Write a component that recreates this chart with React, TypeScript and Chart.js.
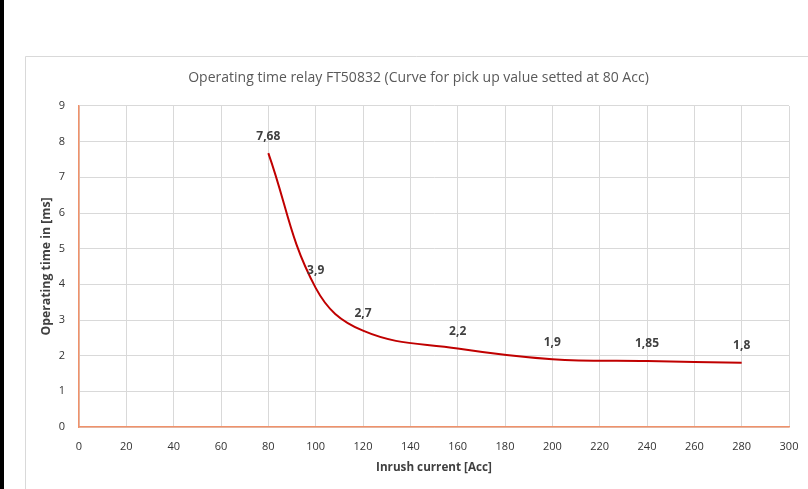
import React, { useEffect, useRef } from "react";
import { Chart, registerables } from "chart.js";

Chart.register(...registerables);

const currents = [80, 100, 120, 160, 200, 240, 280];
const times = [7.68, 3.9, 2.7, 2.2, 1.9, 1.85, 1.8];
const titleText = "Operating time relay FT50832 (Curve for pick up value setted at 80 Acc)";
const xTitle = "Inrush current [Acc]";
const yTitle = "Operating time in [ms]";

const FONT = "'Open Sans', 'Noto Sans', sans-serif";

const framePlugin = {
  id: "frame",
  beforeDraw(chart: any) {
    const { ctx, width, height } = chart;
    ctx.save();
    ctx.fillStyle = "#ffffff";
    ctx.fillRect(0, 0, width, height);
    ctx.fillStyle = "#000000";
    ctx.fillRect(0, 0, 4, height);
    ctx.strokeStyle = "#d9d9d9";
    ctx.lineWidth = 1;
    ctx.beginPath();
    ctx.moveTo(25.5, height);
    ctx.lineTo(25.5, 56.5);
    ctx.lineTo(width, 56.5);
    ctx.stroke();
    ctx.restore();
  },
};

const labelPlugin = {
  id: "pointLabels",
  afterDatasetsDraw(chart: any) {
    const { ctx } = chart;
    const meta = chart.getDatasetMeta(0);
    ctx.save();
    ctx.font = `bold 12px ${FONT}`;
    ctx.fillStyle = "#404040";
    ctx.textAlign = "center";
    ctx.textBaseline = "middle";
    meta.data.forEach((pt: any, i: number) => {
      const txt = String(times[i]).replace(".", ",");
      ctx.fillText(txt, pt.x, pt.y - 17);
    });
    ctx.restore();
  },
};

export default function App() {
  const ref = useRef<HTMLCanvasElement>(null);
  useEffect(() => {
    if (!ref.current) return;
    const chart = new Chart(ref.current, {
      type: "line",
      data: {
        datasets: [
          {
            data: currents.map((x, i) => ({ x, y: times[i] })),
            borderColor: "#c00000",
            borderWidth: 2,
            pointRadius: 0,
            tension: 0.4,
            fill: false,
          },
        ],
      },
      options: {
        responsive: false,
        animation: false,
        layout: { padding: { left: 48, right: 19, top: 0, bottom: 0 } },
        plugins: {
          legend: { display: false },
          tooltip: { enabled: false },
          title: {
            display: true,
            text: titleText,
            color: "#595959",
            font: { family: FONT, size: 14, weight: "normal", lineHeight: 1.2 },
            padding: { top: 69.6, bottom: 19.6 },
          },
        },
        scales: {
          x: {
            type: "linear",
            min: 0,
            max: 300,
            ticks: { stepSize: 20, color: "#333333", font: { family: FONT, size: 11 }, padding: 13, maxRotation: 0 },
            grid: { color: "#d9d9d9", drawTicks: false },
            border: { color: "#f0916a", width: 1.5 },
            title: {
              display: true,
              text: xTitle,
              color: "#404040",
              font: { family: FONT, size: 11.7, weight: "bold" },
              padding: { top: 0, bottom: 14 },
            },
            afterFit(scale: any) {
              scale.height = 62;
              scale.paddingLeft = 0;
              scale.paddingRight = 0;
            },
          },
          y: {
            min: 0,
            max: 9,
            ticks: { stepSize: 1, color: "#333333", font: { family: FONT, size: 11 }, padding: 14 },
            grid: { color: "#d9d9d9", drawTicks: false },
            border: { color: "#f0916a", width: 1.5 },
            title: {
              display: true,
              text: yTitle,
              color: "#404040",
              font: { family: FONT, size: 12.3, weight: "bold" },
              padding: { top: -8.4, bottom: 0 },
            },
            afterFit(scale: any) {
              scale.width = 31;
            },
          },
        },
      },
      plugins: [framePlugin, labelPlugin],
    });
    return () => chart.destroy();
  }, []);
  return (
    <canvas
      ref={ref}
      width={808}
      height={489}
      style={{ position: "absolute", left: 0, top: 0, width: 808, height: 489 }}
    />
  );
}
